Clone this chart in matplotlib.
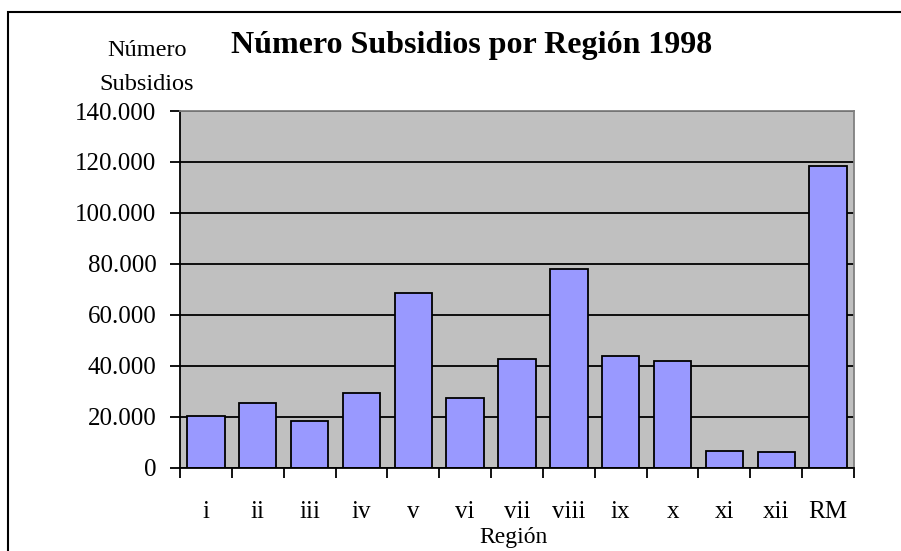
import matplotlib
matplotlib.use("Agg")
import matplotlib.pyplot as plt
from matplotlib.patches import Rectangle
from matplotlib.ticker import FuncFormatter, MultipleLocator, FixedLocator, NullFormatter
import numpy as np

regions = ["i", "ii", "iii", "iv", "v", "vi", "vii", "viii", "ix", "x", "xi", "xii", "RM"]
subsidios = [20300, 25300, 18300, 29200, 68400, 27200, 42700, 77900, 43900, 41900, 6600, 6100, 118400]

title = "Número Subsidios por Región 1998"
ylabel_lines = ["Número", "Subsidios"]
xlabel = "Región"

plt.rcParams['font.family'] = ['Liberation Serif', 'DejaVu Serif']

W, H = 901, 551
fig = plt.figure(figsize=(W / 100, H / 100), dpi=100)
fig.patch.set_facecolor("white")

# outer chart frame
fig.add_artist(Rectangle((8 / W, -0.1), 1.2, 1 - 12 / H + 0.1, transform=fig.transFigure,
                         fill=False, edgecolor="black", linewidth=1.5))

L, R, T, B = 180, 854, 111, 467.5
ax = fig.add_axes([L / W, 1 - B / H, (R - L) / W, (B - T) / H])
ax.set_facecolor("#C0C0C0")

x = np.arange(len(regions))
ax.bar(x, subsidios, width=0.72, color="#9999FF", edgecolor="black", linewidth=1.3, zorder=3)

ax.set_xlim(-0.5, len(regions) - 0.5)
ax.set_ylim(0, 140000)
ax.yaxis.set_major_locator(MultipleLocator(20000))
ax.yaxis.set_major_formatter(FuncFormatter(lambda v, p: f"{int(v):,}".replace(",", ".")))
ax.grid(axis="y", color="black", linewidth=1.3, zorder=1)

ax.xaxis.set_major_locator(FixedLocator(np.arange(-0.5, len(regions), 1.0)))
ax.xaxis.set_major_formatter(NullFormatter())
ax.xaxis.set_minor_locator(FixedLocator(x))
ax.set_xticklabels(regions, minor=True)
ax.tick_params(axis="x", which="major", direction="out", length=7, width=1.3, color="black")
ax.tick_params(axis="x", which="minor", length=0, pad=24, labelsize=18)
ax.tick_params(axis="y", direction="out", length=7, width=1.3, labelsize=18, pad=10)

for s in ["top", "right"]:
    ax.spines[s].set_color("#808080")
    ax.spines[s].set_linewidth(1.3)
for s in ["left", "bottom"]:
    ax.spines[s].set_color("black")
    ax.spines[s].set_linewidth(1.3)
ax.spines["bottom"].set_zorder(4)

fig.text(472 / W, 1 - 45 / H, title, ha="center", va="center", fontsize=23, fontweight="bold")
fig.text(147 / W, 1 - 50 / H, ylabel_lines[0], ha="center", va="center", fontsize=17.5)
fig.text(147 / W, 1 - 85 / H, ylabel_lines[1], ha="center", va="center", fontsize=17.5)
fig.text(513 / W, 1 - 537 / H, xlabel, ha="center", va="center", fontsize=17)

fig.savefig("out.png", dpi=100)
